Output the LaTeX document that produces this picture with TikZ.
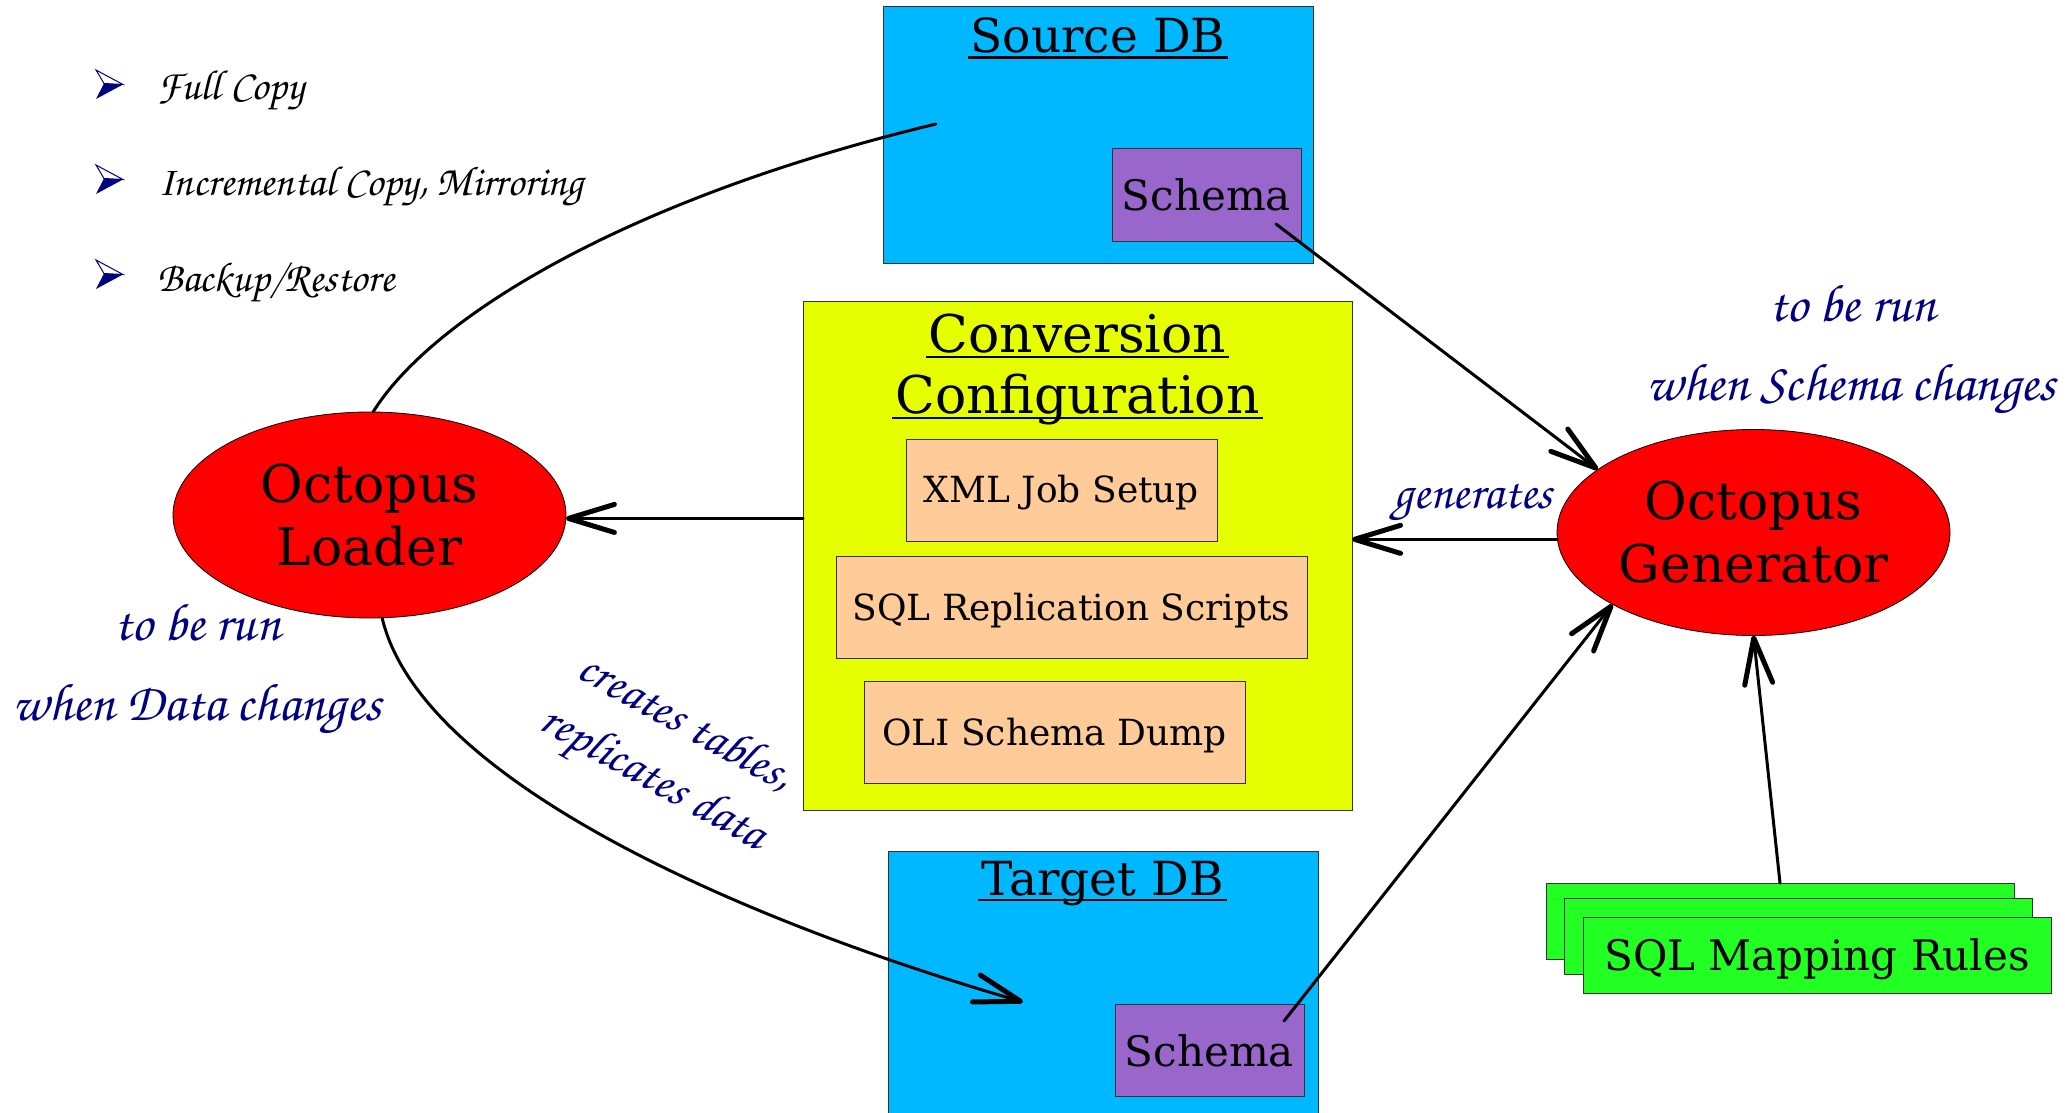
\documentclass[tikz,border=0pt]{standalone}
\usepackage[T1]{fontenc}
\usepackage{fontspec}
\setmainfont{DejaVu Serif}
\usetikzlibrary{arrows.meta,shapes.geometric}
\definecolor{dbblue}{RGB}{0,184,255}
\definecolor{schemapurple}{RGB}{153,102,204}
\definecolor{convyellow}{RGB}{230,255,0}
\definecolor{peach}{RGB}{255,204,153}
\definecolor{mapgreen}{RGB}{34,255,34}
\definecolor{navyblue}{RGB}{0,0,128}
\newcommand\chancery{\fontencoding{T1}\fontfamily{pzc}\fontseries{mb}\fontshape{it}\selectfont}
\newcommand\ulin[1]{\setbox0\hbox{#1}\rlap{\kern-3pt\rule[-6pt]{\dimexpr\wd0+6pt\relax}{2.5pt}}\box0}
\begin{document}
\begin{tikzpicture}[x=1pt,y=-1pt,
  every node/.style={inner sep=0pt,outer sep=0pt},
  box/.style={draw=black!80,line width=1pt,rectangle},
  dbbox/.style={box,fill=dbblue},
  dbtitle/.style={font=\fontsize{47}{56}\selectfont,anchor=base},
  bigtitle/.style={font=\fontsize{52}{62}\selectfont,anchor=base},
  schemabox/.style={box,fill=schemapurple,minimum width=189pt,minimum height=92pt,
    font=\fontsize{42}{50}\selectfont,text height=31pt,text depth=0pt},
  convbox/.style={box,fill=convyellow},
  cfgbox/.style={box,fill=peach,minimum height=102pt,
    font=\fontsize{36}{44}\selectfont,text height=25pt,text depth=0pt},
  mapbox/.style={box,fill=mapgreen,minimum width=468pt,minimum height=76pt,
    font=\fontsize{42}{50}\selectfont,text height=30pt,text depth=0pt},
  octo/.style={ellipse,draw=black,line width=0.8pt,fill=red,
    minimum width=393pt,minimum height=206pt,align=center,
    font=\fontsize{52}{63}\selectfont},
  bullettext/.style={font=\fontsize{42}{48}\chancery,anchor=base west},
  note/.style={text=navyblue,font=\fontsize{53}{60}\chancery},
  rotnote/.style={note,font=\fontsize{49}{56}\chancery,rotate=-29},
  conn/.style={line width=3pt,draw=black,line cap=round},
  arr/.style={conn,-{Straight Barb[length=46pt,width=28pt,line width=5pt,round]}},
  bularrow/.pic={
    \fill[navyblue] (8,-1) -- (27,0) -- (0,14.5) -- cycle;
    \draw[navyblue,line width=1pt,fill=white,line join=miter] (0,-14.5) -- (27,0) -- (8,-1) -- cycle;
  }
]
\useasboundingbox (0,0) rectangle (2065,1113);

% bullet list
\pic at (96,84.5) {bularrow};
\pic at (96,179.5) {bularrow};
\pic at (96,274.5) {bularrow};
\node[bullettext] (b1) at (157,100) {Full Copy};
\node[bullettext] (b2) at (158,196) {Incremental Copy, Mirroring};
\node[bullettext] (b3) at (157,291) {Backup/Restore};

% Source DB
\node[dbbox,minimum width=430pt,minimum height=256pt] (srcdb) at (1098,135) {};
\node[dbtitle] (srctitle) at (1098,53) {\ulin{Source DB}};
\node[schemabox] (srcsch) at (1206.5,195) {Schema};
\coordinate (srcin) at (936,124);
\coordinate (srcschpt) at (1276,224);

% Conversion configuration
\node[convbox,minimum width=549pt,minimum height=509pt] (conv) at (1077.5,555.5) {};
\node[bigtitle] (convt1) at (1077.5,352) {\ulin{Conversion}};
\node[bigtitle] (convt2) at (1077.5,413) {\ulin{Configuration}};
\node[cfgbox,minimum width=311pt] (xml) at (1061.5,490) {XML Job Setup};
\node[cfgbox,minimum width=471pt] (sqlrep) at (1071.5,607.5) {SQL Replication Scripts};
\node[cfgbox,minimum width=381pt] (oli) at (1054.5,732.5) {OLI Schema Dump};

% Target DB
\node[dbbox,minimum width=430pt,minimum height=279pt] (tgtdb) at (1103,990.5) {};
\node[dbtitle] (tgttitle) at (1102.5,895) {\ulin{Target DB}};
\node[schemabox] (tgtsch) at (1209.5,1050.5) {Schema};
\coordinate (tgtin) at (1023,1002);
\coordinate (tgtschpt) at (1284,1021);

% Octopus ellipses
\node[octo] (loader) at (369.5,515) {Octopus\\Loader};
\node[octo] (gen) at (1753.5,532.5) {Octopus\\Generator};

% SQL mapping rules stack
\node[mapbox] (map1) at (1780,921) {};
\node[mapbox] (map2) at (1798,936) {};
\node[mapbox] (map3) at (1817,955) {SQL Mapping Rules};

% notes
\node[note,anchor=base] (genrun1) at (1853,321) {to be run};
\node[note,anchor=base] (genrun2) at (1851,400) {when Schema changes};
\node[note,anchor=base] (ldrun1) at (197.5,640) {to be run};
\node[note,anchor=base] (ldrun2) at (197,720) {when Data changes};
\node[note,anchor=base,font=\fontsize{49}{56}\chancery] (genlbl) at (1473,508) {generates};
\node[rotnote] (cr1) at (686,722) {creates tables,};
\node[rotnote] (cr2) at (652,781) {replicates data};

% connectors
\draw[conn] (loader.88) .. controls (430,320) and (620,200) .. (srcin);
\draw[arr] (srcschpt) -- (gen.158);
\draw[arr] (loader.-1 -| conv.west) -- (loader.-1);
\draw[arr] (gen.182) -- (gen.182 -| conv.east);
\draw[arr] (tgtschpt) -- (gen.207);
\draw[arr] (map1.north) -- (gen.south);
\draw[arr] (loader.-83) .. controls (420,780) and (740,920) .. (tgtin);
\end{tikzpicture}
\end{document}
